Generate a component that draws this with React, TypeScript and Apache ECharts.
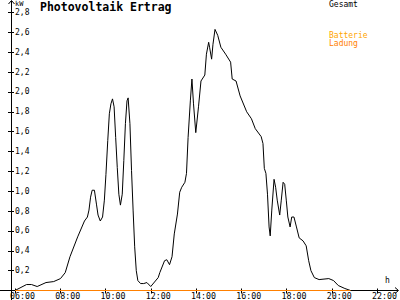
import React, { useEffect, useRef } from "react";
import * as echarts from "echarts";

const titleText = "Photovoltaik Ertrag";
const seriesNames = ["Gesamt", "Batterie", "Ladung"];
const seriesColors = ["#000000", "#ffa500", "#ff8000"];
const yUnit = "kW";
const xUnit = "h";

// hours of day
const gesamtHours = [
  6.0, 6.51, 6.73, 6.98, 7.37, 7.71, 8.01, 8.22, 8.43, 8.77, 9.07, 9.2, 9.27, 9.34, 9.41,
  9.51, 9.6, 9.67, 9.77, 9.87, 9.95, 10.02, 10.1, 10.17, 10.24, 10.31, 10.38, 10.45, 10.52,
  10.59, 10.66, 10.74, 10.81, 10.88, 10.95, 11.0, 11.08, 11.15, 11.22, 11.29, 11.36, 11.43,
  11.55, 11.69, 11.83, 12.0, 12.33, 12.4, 12.61, 12.71, 12.83, 12.94, 13.04, 13.18, 13.28,
  13.37, 13.51, 13.58, 13.65, 13.75, 13.82, 13.89, 13.99, 14.11, 14.22, 14.39, 14.46, 14.56,
  14.6, 14.69, 14.75, 14.84, 14.96, 15.1, 15.31, 15.53, 15.6, 15.77, 15.95, 16.24, 16.45,
  16.62, 16.88, 16.96, 17.02, 17.09, 17.16, 17.23, 17.28, 17.35, 17.45, 17.52, 17.59, 17.7,
  17.77, 17.85, 17.92, 17.99, 18.06, 18.16, 18.23, 18.33, 18.44, 18.56, 18.73, 18.87, 18.98,
  19.08, 19.23, 19.44, 19.87, 20.08, 20.29, 20.58, 20.83,
];
// kW
const gesamtValues = [
  0, 0.06, 0.06, 0.04, 0.08, 0.09, 0.12, 0.18, 0.34, 0.54, 0.7, 0.74, 0.81, 0.94, 1.01,
  1.01, 0.87, 0.76, 0.7, 0.74, 0.91, 1.17, 1.51, 1.78, 1.88, 1.93, 1.85, 1.54, 1.24,
  0.97, 0.86, 0.97, 1.31, 1.68, 1.91, 1.94, 1.68, 1.21, 0.81, 0.44, 0.2, 0.1,
  0.07, 0.07, 0.08, 0.04, 0.13, 0.18, 0.3, 0.31, 0.26, 0.34, 0.57, 0.77, 0.99,
  1.04, 1.09, 1.18, 1.54, 1.91, 2.13, 1.88, 1.59, 1.85, 2.11, 2.17, 2.38, 2.5,
  2.45, 2.33, 2.48, 2.63, 2.57, 2.45, 2.38, 2.3, 2.13, 2.11, 1.96, 1.8, 1.73,
  1.63, 1.55, 1.48, 1.23, 1.18, 0.97, 0.64, 0.55, 0.81, 1.12, 1.04, 0.91, 0.76,
  0.91, 1.09, 1.07, 0.91, 0.74, 0.64, 0.74, 0.74, 0.64, 0.53, 0.5, 0.45, 0.3,
  0.2, 0.13, 0.11, 0.12, 0.1, 0.05, 0.02, 0,
];
const ladungHours = [6.0, 20.83];
const ladungValues = [0, 0];

const xMin = 6;
const xMax = 22;
const xInterval = 2;
const yMin = 0;
const yMax = 2.8;
const yInterval = 0.2;

const FONT = "DejaVu Sans Mono";

export default function App() {
  const ref = useRef<HTMLDivElement>(null);
  useEffect(() => {
    if (!ref.current) return;
    const chart = echarts.init(ref.current, null, { renderer: "svg" });
    const gesamtData = gesamtHours.map((h, i) => [h, gesamtValues[i]]);
    const ladungData = ladungHours.map((h, i) => [h, ladungValues[i]]);
    chart.setOption({
      animation: false,
      backgroundColor: "#ffffff",
      title: {
        text: titleText,
        left: 40,
        top: 1,
        padding: 0,
        textStyle: { fontFamily: FONT, fontWeight: "bold", fontSize: 11.5, color: "#000" },
      },
      grid: { left: 15, right: 10, top: 12.5, bottom: 9.5 },
      xAxis: {
        type: "value",
        min: xMin,
        max: xMax,
        interval: xInterval,
        position: "bottom",
        offset: -2,
        axisLine: { show: false },
        splitLine: { show: false },
        axisTick: { show: true, length: 5, lineStyle: { color: "#000" } },
        axisLabel: {
          margin: 3,
          align: "center",
          formatter: (v: number) => `{t|${(v < 10 ? "0" : "") + v + ":00"}}`,
          rich: {
            t: { width: 40, align: "right", fontFamily: FONT, fontSize: 8.3, color: "#000" },
          },
        },
      },
      yAxis: {
        type: "value",
        min: yMin,
        max: yMax,
        interval: yInterval,
        position: "left",
        offset: 1,
        axisLine: { show: false },
        splitLine: { show: false },
        axisTick: { show: true, length: 6, lineStyle: { color: "#000" } },
        axisLabel: {
          inside: true,
          margin: 1,
          showMinLabel: false,
          fontFamily: FONT,
          fontSize: 8,
          color: "#000",
          formatter: (v: number) => v.toFixed(1).replace(".", ","),
        },
      },
      graphic: [
        { type: "line", z: 0, shape: { x1: 11.5, y1: 300, x2: 11.5, y2: 1 }, style: { stroke: "#000", lineWidth: 1 } },
        { type: "polyline", z: 0, shape: { points: [[8.5, 4], [11.5, 0.5], [14.5, 4]] }, style: { stroke: "#000", lineWidth: 1, fill: "none" } },
        { type: "line", z: 0, shape: { x1: 0, y1: 290.5, x2: 398, y2: 290.5 }, style: { stroke: "#000", lineWidth: 1 } },
        { type: "polyline", z: 0, shape: { points: [[395, 287.5], [398.5, 290.5], [395, 293.5]] }, style: { stroke: "#000", lineWidth: 1, fill: "none" } },
        { type: "text", x: 15, y: 0, style: { text: yUnit, font: `7px ${FONT}`, fill: "#000" } },
        { type: "text", x: 385, y: 276, style: { text: xUnit, font: `8px ${FONT}`, fill: "#000" } },
        { type: "text", x: 329, y: 0, style: { text: seriesNames[0], font: `8px ${FONT}`, fill: seriesColors[0] } },
        { type: "text", x: 329, y: 31.5, style: { text: seriesNames[1], font: `8px ${FONT}`, fill: seriesColors[1] } },
        { type: "text", x: 329, y: 39.5, style: { text: seriesNames[2], font: `8px ${FONT}`, fill: seriesColors[2] } },
      ],
      series: [
        {
          name: seriesNames[0],
          type: "line",
          data: gesamtData,
          symbol: "none",
          z: 3,
          lineStyle: { color: seriesColors[0], width: 1 },
        },
        {
          name: seriesNames[2],
          type: "line",
          data: ladungData,
          symbol: "none",
          z: 4,
          lineStyle: { color: seriesColors[2], width: 1 },
        },
      ],
    });
    return () => chart.dispose();
  }, []);
  return (
    <div
      ref={ref}
      style={{ position: "absolute", left: 0, top: 0, width: 400, height: 300 }}
    />
  );
}
